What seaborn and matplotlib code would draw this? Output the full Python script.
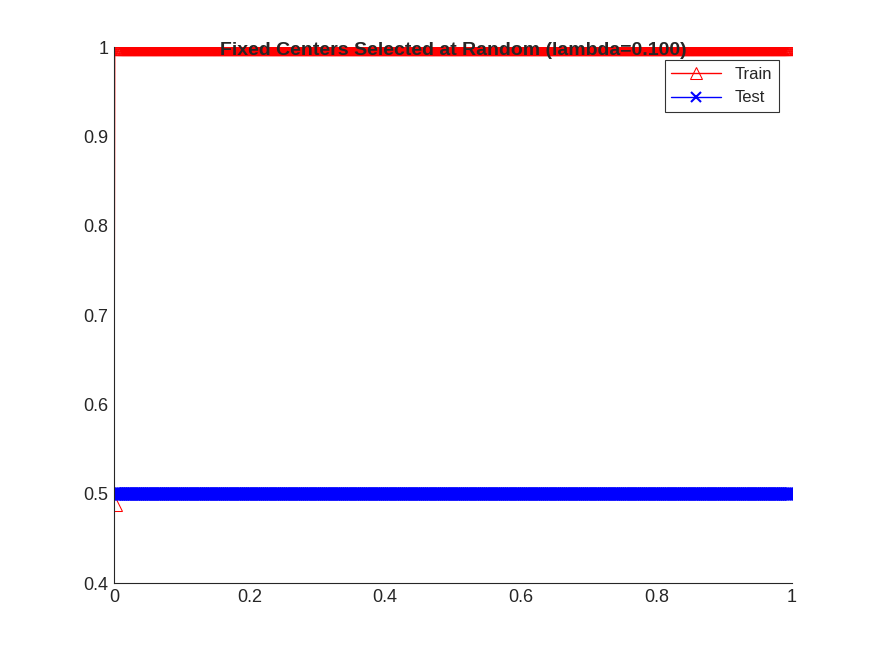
import numpy as np
import matplotlib
matplotlib.use('Agg')
import matplotlib.pyplot as plt
import seaborn as sns

# limiares (eixo x) e acuracia de treino/teste
n_pontos = 1001
limiares = list(np.linspace(0, 1, n_pontos))
acc_treino = [0.49] + [1.0] * (n_pontos - 1)
acc_teste = [0.5] * n_pontos

sns.set_style("white")
plt.rcParams['font.family'] = ['Liberation Sans', 'DejaVu Sans']

fig = plt.figure(figsize=(8.75, 6.56), dpi=100)
ax = fig.add_axes([114/875, 73/656, (792-114)/875, (583-47)/656])

sns.lineplot(x=limiares, y=acc_treino, ax=ax, color='red', marker='^', markersize=11,
             markerfacecolor='none', markeredgecolor='red', linewidth=1, label='Train')
sns.lineplot(x=limiares, y=acc_teste, ax=ax, color='blue', marker='x', markersize=9,
             markeredgecolor='blue', markeredgewidth=1.5, linewidth=1, label='Test')

ax.set_xlim(0, 1)
ax.set_ylim(0.4, 1)
ax.set_xticks([0, 0.2, 0.4, 0.6, 0.8, 1])
ax.set_xticklabels(['0', '0.2', '0.4', '0.6', '0.8', '1'])
ax.set_yticks([0.4, 0.5, 0.6, 0.7, 0.8, 0.9, 1])
ax.set_yticklabels(['0.4', '0.5', '0.6', '0.7', '0.8', '0.9', '1'])
ax.tick_params(direction='in', labelsize=13, colors='#262626', length=5, pad=4)
ax.spines['top'].set_visible(False)
ax.spines['right'].set_visible(False)
for s in ['left', 'bottom']:
    ax.spines[s].set_color('#262626')
ax.set_title('Fixed Centers Selected at Random (lambda=0.100)', fontsize=14,
             fontweight='bold', pad=-6)

leg = ax.legend(loc='upper right', fontsize=12, frameon=True, fancybox=False,
                edgecolor='black', handlelength=3, borderaxespad=0.8, markerscale=0.8)
leg.get_frame().set_linewidth(0.8)

plt.savefig('out.png', dpi=100)
plt.close()
